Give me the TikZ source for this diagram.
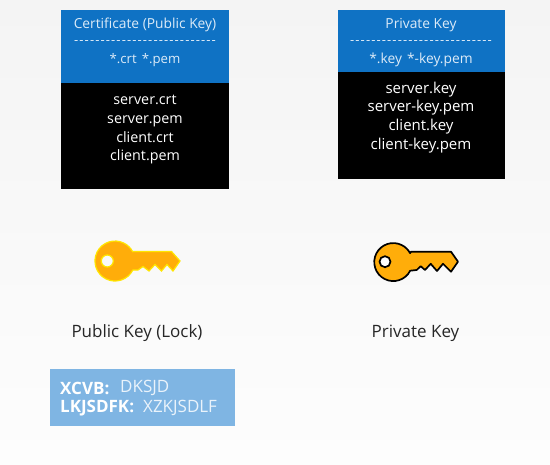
\documentclass[tikz,border=0pt]{standalone}
\usepackage{fontspec}
\setmainfont{Open Sans}
\newfontfamily\dashfont[LetterSpace=8.5]{Open Sans}
\definecolor{hdr}{HTML}{0F72C4}
\definecolor{hdrtxt}{HTML}{DCEBF8}
\definecolor{keygold}{HTML}{FFAD0A}
\definecolor{keyglow}{HTML}{FFE600}
\definecolor{note}{HTML}{7FB5E3}
\definecolor{notetxt}{HTML}{EAF3FB}
\definecolor{bgtop}{HTML}{F4F4F4}
\definecolor{bgbot}{HTML}{FDFDFD}
\tikzset{
  x=1pt,y=-1pt,
  hdrbox/.style={fill=hdr,draw=none},
  blackbox/.style={fill=black,draw=none},
  hdrlabel/.style={text=hdrtxt,font=\fontsize{13.8}{15}\selectfont,inner sep=0pt,anchor=center},
  filelist/.style={text=white,align=center,inner sep=0pt,anchor=north},
  caption/.style={text=black!85,font=\fontsize{17}{17}\selectfont,inner sep=0pt,anchor=center},
  notetext/.style={inner sep=0pt,anchor=west,font=\fontsize{17}{19}\selectfont},
}
\begin{document}
\begin{tikzpicture}
\useasboundingbox (0,0) rectangle (550,465);
\shade[top color=bgtop,bottom color=bgbot] (0,0) rectangle (550,465);
% left card
\fill[blackbox] (61,83) rectangle (229,189);
\fill[hdrbox] (61,10) rectangle (229,83);
\node[hdrlabel] (lt) at (145,25) {Certificate (Public Key)};
\node[hdrlabel,font=\fontsize{13}{15}\selectfont] (ld) at (145,42.5) {\dashfont---------------------------};
\node[hdrlabel,font=\fontsize{13.2}{15}\selectfont] (le) at (145,60) {*.crt\hspace{5pt}*.pem};
\node[filelist,font=\fontsize{14.3}{18.7}\selectfont] (lf) at (145,95) {server.crt\\server.pem\\client.crt\\client.pem};
% right card
\fill[blackbox] (337.5,72) rectangle (505,179);
\fill[hdrbox] (337.5,10) rectangle (505,72);
\node[hdrlabel] (rt) at (421,25) {Private Key};
\node[hdrlabel,font=\fontsize{13}{15}\selectfont] (rd) at (421,42.5) {\dashfont---------------------------};
\node[hdrlabel] (re) at (421,60) {*.key\hspace{5pt}*-key.pem};
\node[filelist,font=\fontsize{15}{18.7}\selectfont] (rf) at (421,81.5) {server.key\\server-key.pem\\client.key\\client-key.pem};
% public key
\fill[keygold,draw=keyglow,line width=1.2pt,even odd rule]
  (132.7,251.6) -- (171.5,251.5) -- (180,261) -- (173,271) -- (167,264.5) -- (161.5,271) -- (155,264.5) -- (149,271) -- (143,266.5) -- (138,270) -- (132.8,270.1)
  arc[start angle=27,end angle=332,radius=20] -- cycle
  (107.3,261) circle[radius=6];
% private key
\filldraw[fill=keygold,draw=black,line width=1.7pt,line join=round]
  (411,251.7) -- (451,251.7) -- (458,261.7) -- (451,271.7) -- (443,263.8) -- (437,271) -- (430.7,263.8) -- (425,270) -- (420.7,266.2) -- (416.7,270) -- (410.2,270.7)
  arc[start angle=27,end angle=332,radius=19] -- cycle;
\filldraw[fill=white,draw=black,line width=1.7pt] (385,261.7) circle[radius=5.5];
% captions
\node[caption] (pubcap) at (137,333) {Public Key (Lock)};
\node[caption] (privcap) at (415.5,333) {Private Key};
% note
\fill[note] (50,369) rectangle (235,426);
\node[notetext,text=notetxt] (n1a) at (120,388) {DKSJD};
\node[notetext,text=notetxt] (n2a) at (143,408) {XZKJSDLF};
\node[notetext,text=white,font=\fontsize{17}{19}\selectfont\bfseries] (n1) at (60,388) {XCVB:};
\node[notetext,text=white,font=\fontsize{17}{19}\selectfont\bfseries] (n2) at (60,408) {LKJSDFK:};
\end{tikzpicture}
\end{document}
